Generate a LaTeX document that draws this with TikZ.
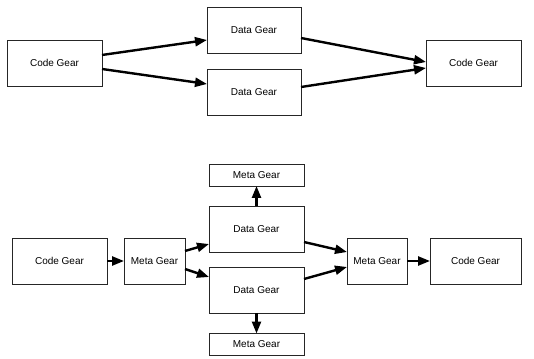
\documentclass[tikz,border=0pt]{standalone}
\usepackage{fontspec}
\setmainfont{Liberation Sans}
\usetikzlibrary{arrows.meta,calc}

\begin{document}
\begin{tikzpicture}[x=1pt, y=1pt,
    gearbox/.style={draw=black!85, line width=0.8pt, inner sep=0pt, outer sep=0pt,
                    minimum height=46pt, font=\fontsize{10}{12}\selectfont},
    gearlink/.style={-{Triangle[length=12pt, width=9pt]}, line width=2.4pt}]
    \useasboundingbox (0,0) rectangle (534,358);
    % Top row: code gears and data gears
    \node[gearbox, minimum width=95pt] (codeA) at (54.5,295) {Code Gear};
    \node[gearbox, minimum width=94pt] (dataA) at (254,328) {Data Gear};
    \node[gearbox, minimum width=94pt] (dataB) at (254,266) {Data Gear};
    \node[gearbox, minimum width=95pt] (codeB) at (473.5,295) {Code Gear};
    \draw[gearlink] ([yshift=8pt]codeA.east) -- ([yshift=-10pt]dataA.west);
    \draw[gearlink] ([yshift=-6pt]codeA.east) -- ([yshift=8pt]dataB.west);
    \draw[gearlink] ([yshift=-8pt]dataA.east) -- ([yshift=1pt]codeB.west);
    \draw[gearlink] ([yshift=5pt]dataB.east) -- ([yshift=-5pt]codeB.west);
    % Bottom row: meta gears in between
    \node[gearbox, minimum width=95pt] (codeC) at (59.5,97) {Code Gear};
    \node[gearbox, minimum width=61pt] (metaA) at (154.5,97) {Meta Gear};
    \node[gearbox, minimum width=95pt] (dataC) at (256.5,129) {Data Gear};
    \node[gearbox, minimum width=95pt] (dataD) at (256.5,68) {Data Gear};
    \node[gearbox, minimum width=95pt, minimum height=22pt] (metaB) at (256.5,183) {Meta Gear};
    \node[gearbox, minimum width=95pt, minimum height=22pt] (metaC) at (256.5,13.5) {Meta Gear};
    \node[gearbox, minimum width=60pt] (metaD) at (377,97) {Meta Gear};
    \node[gearbox, minimum width=91pt] (codeD) at (475.5,97) {Code Gear};
    \draw[gearlink] (codeC) -- (metaA);
    \draw[gearlink] ([yshift=10pt]metaA.east) -- ([yshift=-15pt]dataC.west);
    \draw[gearlink] ([yshift=-8pt]metaA.east) -- ([yshift=13pt]dataD.west);
    \draw[gearlink] (dataC) -- (metaB);
    \draw[gearlink] (dataD) -- (metaC);
    \draw[gearlink] ([yshift=-13pt]dataC.east) -- ([yshift=9pt]metaD.west);
    \draw[gearlink] ([yshift=11pt]dataD.east) -- ([yshift=-6pt]metaD.west);
    \draw[gearlink] (metaD) -- (codeD);
\end{tikzpicture}
\end{document}
